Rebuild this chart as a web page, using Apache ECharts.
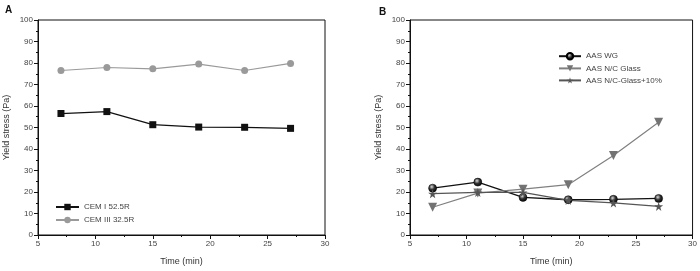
<!DOCTYPE html>
<html>
<head>
<meta charset="utf-8">
<script src="https://cdn.jsdelivr.net/npm/echarts@6/dist/echarts.min.js"></script>
<style>
  html, body { margin: 0; padding: 0; background: #fff; }
  #chart { width: 700px; height: 271px; }
</style>
</head>
<body>
<div id="chart"></div>
<script>
const times = [7, 11, 15, 19, 23, 27];

// panel A
const cemI = [56.5, 57.4, 51.3, 50.2, 50.1, 49.6];
const cemIII = [76.5, 77.9, 77.3, 79.5, 76.5, 79.8];

// panel B
const aasWG = [21.8, 24.6, 17.5, 16.4, 16.6, 17.0];
const aasGlass = [12.9, 19.5, 21.3, 23.4, 37.0, 52.4];
const aasGlass10 = [19.2, 19.8, 19.8, 16.1, 14.9, 13.3];

const yTicks = { min: 0, max: 100, interval: 10 };
const xTicks = { min: 5, max: 30, interval: 5 };

const pairs = (ys) => times.map((t, i) => [t, ys[i]]);

const starPath = 'path://M50,0 L61,35 L98,35 L68,57 L79,91 L50,70 L21,91 L32,57 L2,35 L39,35 Z';
const sphere = {
  type: 'radial', x: 0.4, y: 0.35, r: 0.7,
  colorStops: [{ offset: 0, color: '#ddd' }, { offset: 0.45, color: '#333' }, { offset: 1, color: '#000' }]
};

const labelFont = { fontSize: 8, color: '#444', fontFamily: 'Liberation Sans' };

const xAxis = (gridIndex) => ({
  type: 'value', gridIndex, ...xTicks,
  name: 'Time (min)', nameLocation: 'middle', nameGap: 22,
  nameTextStyle: { fontSize: 9, color: '#333', fontFamily: 'Liberation Sans' },
  axisLine: { onZero: false, lineStyle: { color: '#111', width: 1 } },
  axisTick: { inside: false, length: 4, lineStyle: { color: '#111' } },
  minorTick: { show: true, splitNumber: 2, length: 2, lineStyle: { color: '#111' } },
  axisLabel: { ...labelFont, margin: 5 },
  splitLine: { show: false }
});
const yAxis = (gridIndex) => ({
  type: 'value', gridIndex, ...yTicks,
  name: 'Yield stress (Pa)', nameLocation: 'middle', nameGap: 27,
  nameTextStyle: { fontSize: 9, color: '#333', fontFamily: 'Liberation Sans' },
  axisLine: { show: true, lineStyle: { color: '#111', width: 1 } },
  axisTick: { show: true, inside: false, length: 4, lineStyle: { color: '#111' } },
  minorTick: { show: true, splitNumber: 2, length: 2, lineStyle: { color: '#111' } },
  axisLabel: { ...labelFont, margin: 5 },
  splitLine: { show: false }
});

const chart = echarts.init(document.getElementById('chart'), null, { renderer: 'canvas' });

chart.setOption({
  backgroundColor: '#fff',
  animation: false,
  title: [
    { text: 'A', left: 0, top: 0, textStyle: { fontSize: 10, fontWeight: 'bold', color: '#111', fontFamily: 'Liberation Sans' } },
    { text: 'B', left: 374, top: 2, textStyle: { fontSize: 10, fontWeight: 'bold', color: '#111', fontFamily: 'Liberation Sans' } }
  ],
  grid: [
    { left: 38, top: 20, width: 287, height: 219, show: true, borderColor: '#111', borderWidth: 1, backgroundColor: '#fff' },
    { left: 410, top: 20, width: 287, height: 219, show: true, borderColor: '#111', borderWidth: 1, backgroundColor: '#fff' }
  ],
  xAxis: [xAxis(0), xAxis(1)],
  yAxis: [yAxis(0), yAxis(1)],
  legend: [
    {
      data: ['CEM I 52.5R', 'CEM III 32.5R'],
      orient: 'vertical', left: 50, top: 198, itemWidth: 23, itemHeight: 8, itemGap: 5,
      textStyle: { ...labelFont, fontSize: 8 }
    },
    {
      data: ['AAS WG', 'AAS N/C Glass', 'AAS N/C-Glass+10%'],
      orient: 'vertical', left: 553, top: 47, itemWidth: 22, itemHeight: 8, itemGap: 4,
      textStyle: { ...labelFont, fontSize: 8 }
    }
  ],
  series: [
    {
      name: 'CEM I 52.5R', type: 'line', xAxisIndex: 0, yAxisIndex: 0,
      data: pairs(cemI), symbol: 'rect', symbolSize: 7,
      lineStyle: { color: '#111', width: 1.3 }, itemStyle: { color: '#111' }
    },
    {
      name: 'CEM III 32.5R', type: 'line', xAxisIndex: 0, yAxisIndex: 0,
      data: pairs(cemIII), symbol: 'circle', symbolSize: 7,
      lineStyle: { color: '#9a9a9a', width: 1.2 }, itemStyle: { color: '#9a9a9a' }
    },
    {
      name: 'AAS WG', type: 'line', xAxisIndex: 1, yAxisIndex: 1,
      data: pairs(aasWG), symbol: 'circle', symbolSize: 8,
      lineStyle: { color: '#111', width: 1.3 }, itemStyle: { color: sphere, borderColor: '#000', borderWidth: 0.5 }
    },
    {
      name: 'AAS N/C Glass', type: 'line', xAxisIndex: 1, yAxisIndex: 1,
      data: pairs(aasGlass), symbol: 'triangle', symbolRotate: 180, symbolSize: 9,
      lineStyle: { color: '#808080', width: 1.2 }, itemStyle: { color: '#737373' }
    },
    {
      name: 'AAS N/C-Glass+10%', type: 'line', xAxisIndex: 1, yAxisIndex: 1,
      data: pairs(aasGlass10), symbol: starPath, symbolSize: 9,
      lineStyle: { color: '#555', width: 1.2 }, itemStyle: { color: '#555' }
    }
  ]
});
</script>
</body>
</html>
